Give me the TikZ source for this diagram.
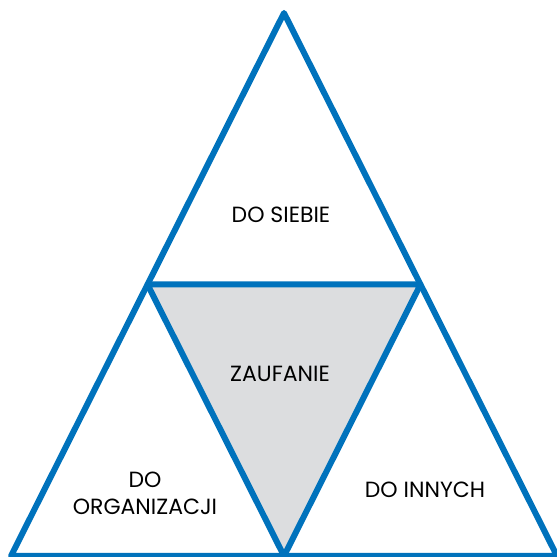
\documentclass[tikz,border=0pt]{standalone}
\usepackage{fontspec}
\setmainfont{Poppins}
\usepackage{tikz}
\usetikzlibrary{calc}
\definecolor{triblue}{RGB}{0,114,188}
\definecolor{trigray}{RGB}{220,221,223}
\tikzset{
  edge/.style={triblue,line width=6pt,line join=round},
  label/.style={font=\fontsize{22}{27}\selectfont,align=center,inner sep=0pt}
}
\begin{document}
\begin{tikzpicture}[x=1pt,y=1pt]
\useasboundingbox (0,0) rectangle (557,557);
\coordinate (top) at (284,544);
\coordinate (bl) at (11,1);
\coordinate (br) at (557,1);
\coordinate (ml) at ($(top)!0.5!(bl)$);
\coordinate (mr) at ($(top)!0.5!(br)$);
\coordinate (mb) at ($(bl)!0.5!(br)$);

\fill [trigray] (ml) -- (mr) -- (mb) -- cycle;
\draw [edge] (top) -- (bl) -- (br) -- cycle;
\draw [edge] (ml) -- (mr) -- (mb) -- cycle;

\node [label] (self) at (281,342) {DO SIEBIE};
\node [label] (trust) at (280,183) {ZAUFANIE};
\node [label] (org) at (145,64) {DO\\ORGANIZACJI};
\node [label] (others) at (425,67) {DO INNYCH};
\end{tikzpicture}
\end{document}
